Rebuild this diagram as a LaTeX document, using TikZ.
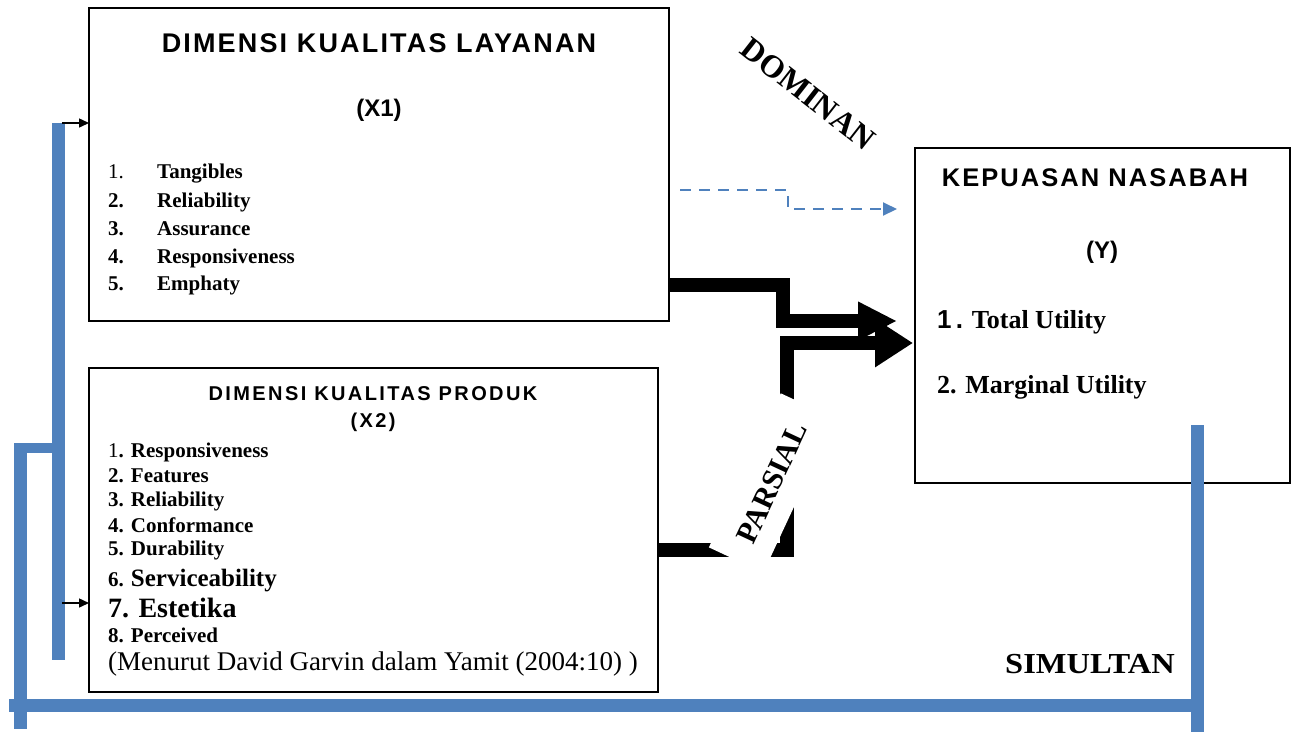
\documentclass[tikz,border=0pt]{standalone}
\usepackage{fontspec}
\setmainfont{Liberation Serif}
\newfontfamily\hv{Liberation Sans}
\newfontfamily\hvsp{Liberation Sans}[LetterSpace=8]
\newfontfamily\hvspw{Liberation Sans}[LetterSpace=12]
\usetikzlibrary{arrows.meta}
\definecolor{blu}{HTML}{4F81BD}
\newcommand{\fsz}[1]{\fontsize{#1}{#1}\selectfont}
\begin{document}
\begin{tikzpicture}[x=1pt,y=-1pt,
  box/.style={draw=black, line width=1.5pt, anchor=north west, inner sep=0pt, outer sep=0pt},
  txt/.style={anchor=base west, inner sep=0pt},
  blueline/.style={draw=blu, line width=13pt},
  bigarrowa/.style={line width=14pt, line join=miter, -{Triangle[length=39pt,width=36pt]}},
  bigarrowb/.style={line width=14pt, line join=miter, -{Triangle[length=38pt,width=46pt]}},
  smallarrow/.style={line width=1.5pt, -{Triangle[length=10pt,width=9pt]}},
  dasharrow/.style={draw=blu, line width=2pt, dash pattern=on 11pt off 8pt, -{Triangle[length=14pt,width=13pt]}},
  itm/.style={txt, font=\bfseries\fsz{21}}
]
\useasboundingbox (0,0) rectangle (1296,732);
\fill[white] (0,0) rectangle (1296,732);

% boxes
\node[box, minimum width=580pt, minimum height=313pt] (x1) at (89,8) {};
\node[box, minimum width=569pt, minimum height=324pt] (x2) at (89,368) {};
\node[box, minimum width=375pt, minimum height=335pt] (y) at (915,148) {};

% X1 text
\node[font=\hvsp\bfseries\fsz{27}] (t1) at (379,43) {DIMENSI KUALITAS LAYANAN};
\node[font=\hv\bfseries\fsz{24}] (t1b) at (379,110) {(X1)};
\node[txt, font=\fsz{21}] (a1n) at (108,178) {1.};
\node[itm] (a1) at (157,178) {Tangibles};
\node[itm] (a2n) at (108,207) {2.};
\node[itm] (a2) at (157,207) {Reliability};
\node[itm] (a3n) at (108,235) {3.};
\node[itm] (a3) at (157,235) {Assurance};
\node[itm] (a4n) at (108,263) {4.};
\node[itm] (a4) at (157,263) {Responsiveness};
\node[itm] (a5n) at (108,290) {5.};
\node[itm] (a5) at (157,290) {Emphaty};

% X2 text
\node[font=\hvspw\bfseries\fsz{20}] (t2) at (373,394) {DIMENSI KUALITAS PRODUK};
\node[font=\hvspw\bfseries\fsz{20}] (t2b) at (373,422) {(X2)};
\node[itm] (b1) at (108,457) {{\mdseries 1}. Responsiveness};
\node[itm] (b2) at (108,482) {2. Features};
\node[itm] (b3) at (108,506) {3. Reliability};
\node[itm] (b4) at (108,532) {4. Conformance};
\node[itm] (b5) at (108,555) {5. Durability};
\node[itm] (b6) at (108,586) {6. {\fsz{25}Serviceability}};
\node[txt, font=\bfseries\fsz{28}] (b7) at (108,617) {7. Estetika};
\node[itm] (b8) at (108,642) {8. Perceived};
\node[txt, font=\fsz{27}] (b9) at (108,670) {(Menurut David Garvin dalam Yamit (2004:10) )};

% Y text
\node[font=\hvsp\bfseries\fsz{25.5}] (ty) at (1095,178) {KEPUASAN NASABAH};
\node[font=\hv\bfseries\fsz{24}] (tyb) at (1102,252) {(Y)};
\node[txt, font=\bfseries\fsz{26}] (y1) at (937,328) {{\hv 1\,.} Total Utility};
\node[txt, font=\bfseries\fsz{26}] (y2) at (937,393) {2. Marginal Utility};

% blue bracket lines
\draw[blueline] (58,123) -- (58,660);
\draw[blueline] (20,444) -- (20,729);
\draw[blu, line width=10pt] (14,448) -- (58,448);
\draw[blueline] (9,705) -- (1197,705);
\draw[blueline] (1197,425) -- (1197,732);

% small black arrows
\draw[smallarrow] (62,123) -- (x1.west |- 0,123);
\draw[smallarrow] (62,603) -- (x2.west |- 0,603);

% dashed arrow (dominan)
\draw[dasharrow] ([xshift=11pt]x1.east |- 0,190) -- (788,190) -- (788,209) -- ([xshift=-18pt]y.west |- 0,209);

% thick arrows
\draw[bigarrowa] (x1.east |- 0,285) -- (783,285) -- (783,321) -- ([xshift=-18pt]y.west |- 0,321);
\draw[bigarrowb] (x2.east |- 0,550) -- (787,550) -- (787,343) -- ([xshift=-2pt]y.west |- 0,343);

% labels
\node[font=\bfseries\fsz{32}, rotate=-38] (dom) at (808,94) {DOMINAN};
\node[fill=white, rotate=65, minimum width=170pt, minimum height=60pt, inner sep=0pt, font=\bfseries\fsz{30}] (par) at (772,483) {PARSIAL};
\node[txt, font=\bfseries\fsz{29}, xscale=1.12] (sim) at (1005,673) {SIMULTAN};
\end{tikzpicture}
\end{document}
